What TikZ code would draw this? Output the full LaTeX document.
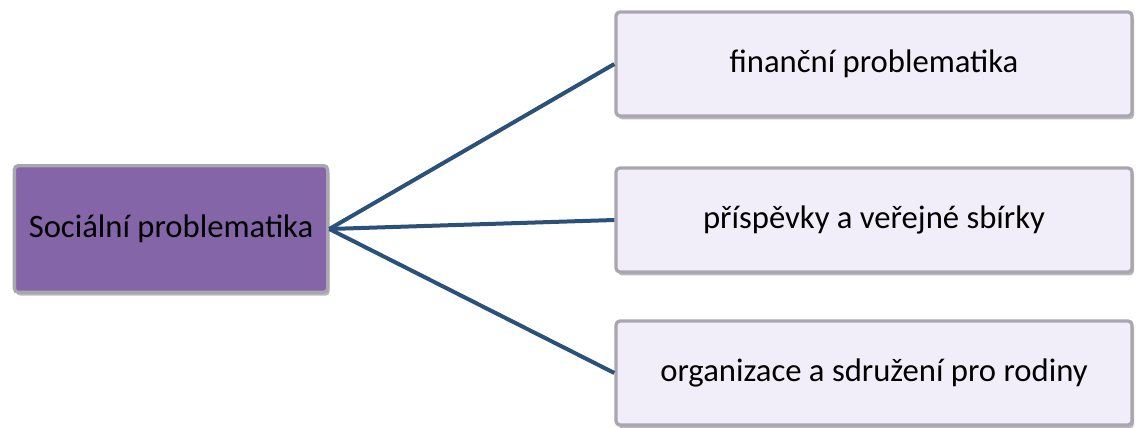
\documentclass[tikz,border=0pt]{standalone}
\usepackage{fontspec}
\setmainfont{Carlito}
\usetikzlibrary{positioning,shadows}

\definecolor{fialova}{HTML}{8465A8}
\definecolor{svetla}{HTML}{F2EEF9}
\definecolor{hrana}{HTML}{A9A6AF}
\definecolor{spojnice}{HTML}{2B5079}

\tikzset{
  hlavni/.style={rectangle, rounded corners=3pt, fill=fialova, draw=hrana, line width=2.5pt,
    minimum width=235pt, minimum height=95pt,
    drop shadow={shadow xshift=1.5pt,shadow yshift=-2.5pt,opacity=0.55},
    font=\fontsize{24.5}{29}\selectfont},
  podtema/.style={rectangle, rounded corners=3pt, fill=svetla, draw=hrana, line width=2.5pt,
    minimum width=387pt, minimum height=78pt,
    drop shadow={shadow xshift=1.5pt,shadow yshift=-2.5pt,opacity=0.55},
    font=\fontsize{24.5}{29}\selectfont},
  spoj/.style={draw=spojnice, line width=3pt}
}

\begin{document}
\begin{tikzpicture}[x=0.75pt,y=0.75pt,yscale=-1,xscale=1]
  \useasboundingbox (0,0) rectangle (1138,428);

  % hlavni tema
  \node[hlavni] (soc) at (171,229) {Sociální problematika};

  % podtemata
  \node[podtema] (fin) at (874,64) {finanční problematika};
  \node[podtema] (pri) at (874,220) {příspěvky a veřejné sbírky};
  \node[podtema] (org) at (874,373) {organizace a sdružení pro rodiny};

  % spojnice
  \draw[spoj] (soc.east) -- (fin.west);
  \draw[spoj] (soc.east) -- (pri.west);
  \draw[spoj] (soc.east) -- (org.west);
\end{tikzpicture}
\end{document}
